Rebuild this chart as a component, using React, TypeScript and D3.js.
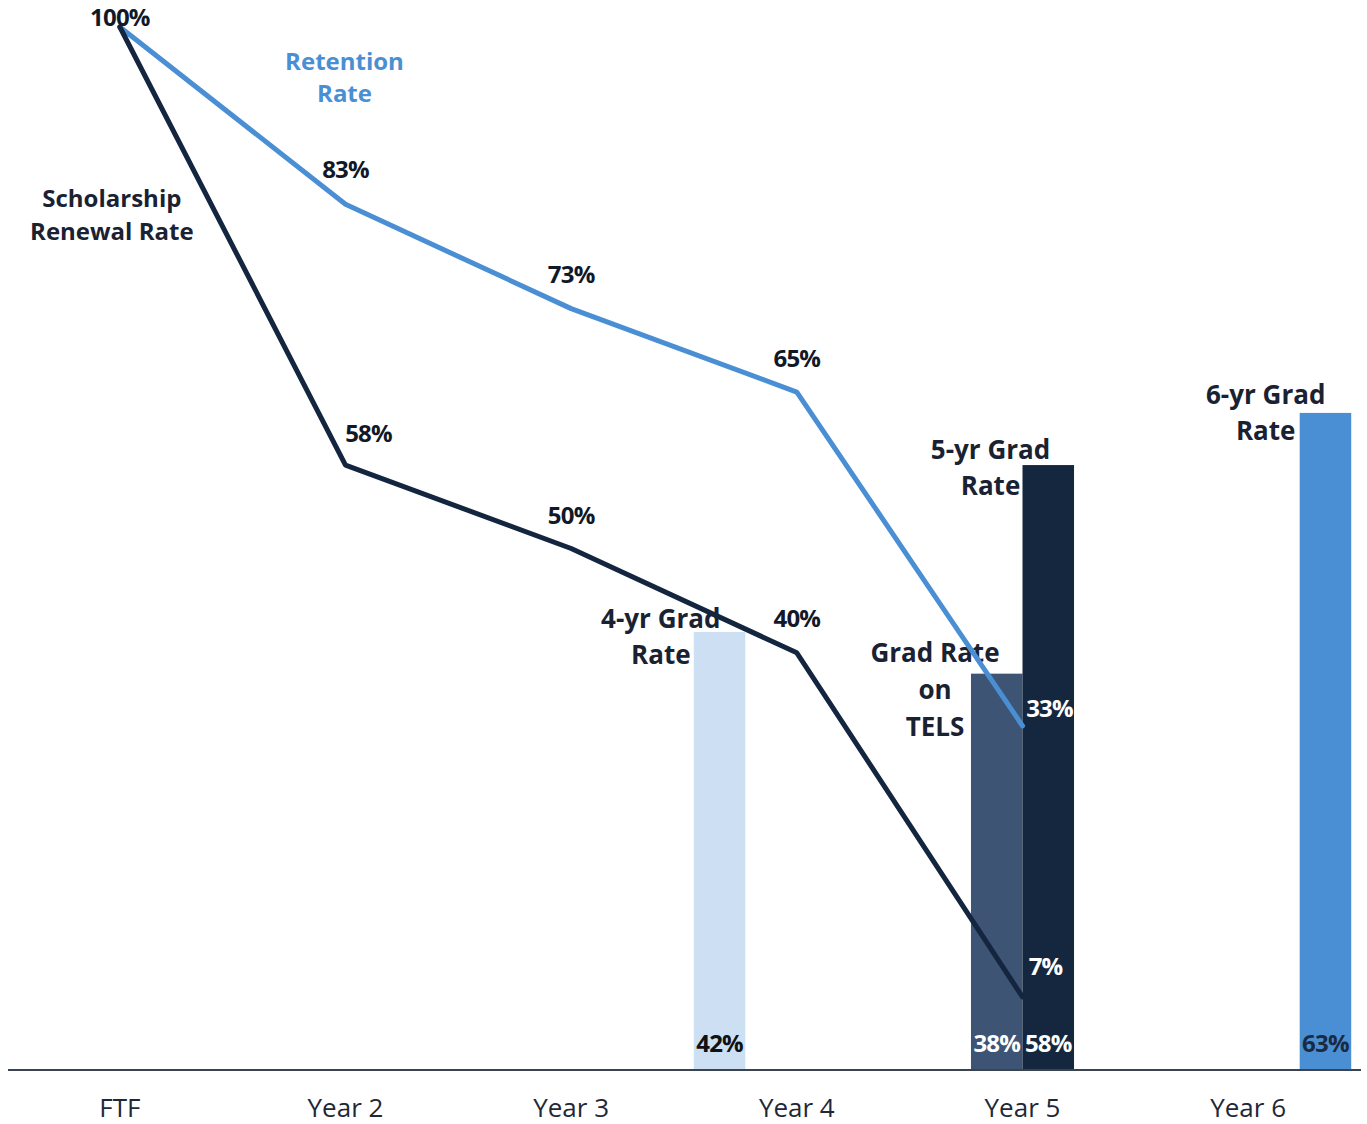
import React, { useEffect, useRef } from "react";
import * as d3 from "d3";

// x-axis categories
const years = ["FTF", "Year 2", "Year 3", "Year 4", "Year 5", "Year 6"];

// line series (ends at Year 5)
const lineYears = ["FTF", "Year 2", "Year 3", "Year 4", "Year 5"];
const retentionRate = [1.0, 0.83, 0.73, 0.65, 0.33];
const renewalRate = [1.0, 0.58, 0.5, 0.4, 0.07];

// grad-rate bars
const barSeries = ["4-yr", "TELS", "5-yr", "6-yr"];
const barYears = ["Year 4", "Year 5", "Year 5", "Year 6"];
const barValues = [0.42, 0.38, 0.58, 0.63];
const barNames = [["4-yr Grad", "Rate"], ["Grad Rate", "on", "TELS"], ["5-yr Grad", "Rate"], ["6-yr Grad", "Rate"]];

const NAVY = "#14263f";
const BLUE = "#4a8fd4";
const TEXT = "#1a2232";
const barColors = ["#cddff3", "#3e5475", "#15273f", "#4a8fd4"];
const barLabelColors = ["#111111", "#ffffff", "#ffffff", "#1a2a40"];

const FONT = "'Open Sans', 'Noto Sans', sans-serif";

const GradChart: React.FC = () => {
  const svgRef = useRef<SVGSVGElement>(null);

  useEffect(() => {
    if (!svgRef.current) return;
    const width = 1367;
    const height = 1124;
    const svg = d3.select(svgRef.current).attr("width", width).attr("height", height);
    svg.selectAll("*").remove();

    const x = d3.scaleBand<string>().domain(years).range([7, 1361]).padding(0);
    const xSub = d3
      .scaleBand<string>()
      .domain(barSeries)
      .range([0, x.bandwidth()])
      .paddingInner(0)
      .paddingOuter(0.19);
    const y = d3.scaleLinear().domain([0, 1]).range([1070, 27]);
    const cx = (c: string) => (x(c) as number) + x.bandwidth() / 2;
    const fmt = d3.format(".0%");

    // bars
    const bars = barSeries.map((s, i) => ({ s, year: barYears[i], v: barValues[i], i }));
    const bx = (d: { s: string; year: string }) => (x(d.year) as number) + (xSub(d.s) as number);

    svg
      .selectAll("rect.bar")
      .data(bars)
      .enter()
      .append("rect")
      .attr("class", "bar")
      .attr("x", (d) => bx(d))
      .attr("y", (d) => y(d.v))
      .attr("width", xSub.bandwidth())
      .attr("height", (d) => y(0) - y(d.v))
      .attr("fill", (d) => barColors[d.i]);

    // bar value labels near bottom
    svg
      .selectAll("text.barval")
      .data(bars)
      .enter()
      .append("text")
      .attr("class", "barval")
      .attr("x", (d) => bx(d) + xSub.bandwidth() / 2)
      .attr("y", y(0) - 18)
      .attr("text-anchor", "middle")
      .style("font-family", FONT)
      .style("font-weight", "bold")
      .style("font-size", "24px")
      .style("letter-spacing", "-0.8px")
      .style("fill", (d) => barLabelColors[d.i])
      .text((d) => fmt(d.v));

    // bar names: first baseline relative to bar top-left
    const nameOffsets = [
      { dx: -33, dy: -4 },
      { dx: -36, dy: -12 },
      { dx: -32, dy: -6 },
      { dx: -34, dy: -9 },
    ];
    const lineGap = [36, 37, 36, 36];
    bars.forEach((d) => {
      const names = barNames[d.i];
      const o = nameOffsets[d.i];
      const t = svg
        .append("text")
        .attr("text-anchor", "middle")
        .style("font-family", FONT)
        .style("font-weight", "bold")
        .style("font-size", "26px")
        .style("fill", TEXT);
      const baseY = y(d.v) + o.dy;
      names.forEach((n, k) => {
        t.append("tspan")
          .attr("x", bx(d) + o.dx)
          .attr("y", baseY + k * lineGap[d.i])
          .text(n);
      });
    });

    // axis line
    svg
      .append("line")
      .attr("x1", 8)
      .attr("x2", 1361)
      .attr("y1", y(0))
      .attr("y2", y(0))
      .attr("stroke", "#3a4350")
      .attr("stroke-width", 2);

    // x labels
    svg
      .selectAll("text.xlab")
      .data(years)
      .enter()
      .append("text")
      .attr("class", "xlab")
      .attr("x", (d) => cx(d))
      .attr("y", 1117)
      .attr("text-anchor", "middle")
      .style("font-family", FONT)
      .style("font-size", "26px")
      .style("fill", "#1e2836")
      .text((d) => d);

    // lines
    const line = d3
      .line<number>()
      .x((_, i) => cx(lineYears[i]))
      .y((d) => y(d));

    svg
      .append("path")
      .datum(retentionRate)
      .attr("d", line)
      .attr("fill", "none")
      .attr("stroke", BLUE)
      .attr("stroke-width", 5)
      .attr("stroke-linecap", "round")
      .attr("stroke-linejoin", "bevel");

    svg
      .append("path")
      .datum(renewalRate)
      .attr("d", line)
      .attr("fill", "none")
      .attr("stroke", NAVY)
      .attr("stroke-width", 5)
      .attr("stroke-linecap", "round")
      .attr("stroke-linejoin", "bevel");

    // point labels
    const pointLabel = (v: number, c: string, dx: number, dy: number, color: string) => {
      svg
        .append("text")
        .attr("x", cx(c) + dx)
        .attr("y", y(v) + dy)
        .attr("text-anchor", "middle")
        .style("font-family", FONT)
        .style("font-weight", "bold")
        .style("font-size", "24px")
        .style("letter-spacing", "-0.8px")
        .style("fill", color)
        .text(fmt(v));
    };

    const retOffsets = [
      [0, -1],
      [0, -26],
      [0, -26],
      [0, -25],
      [27, -9],
    ];
    retentionRate.forEach((v, i) => {
      const [dx, dy] = retOffsets[i];
      pointLabel(v, lineYears[i], dx, dy, i === 4 ? "#ffffff" : "#111827");
    });

    const renOffsets = [
      [0, 0],
      [23, -23],
      [0, -25],
      [0, -26],
      [23, -22],
    ];
    renewalRate.forEach((v, i) => {
      if (i === 0) return; // shares the 100% label
      const [dx, dy] = renOffsets[i];
      pointLabel(v, lineYears[i], dx, dy, i === 4 ? "#ffffff" : "#111827");
    });

    // series names
    const seriesName = (lines: string[], xPos: number, yPos: number, gap: number, color: string) => {
      const t = svg
        .append("text")
        .attr("text-anchor", "middle")
        .style("font-family", FONT)
        .style("font-weight", "bold")
        .style("font-size", "24px")
        .style("fill", color);
      lines.forEach((n, k) => {
        t.append("tspan").attr("x", xPos).attr("y", yPos + k * gap).text(n);
      });
    };
    seriesName(["Retention", "Rate"], cx("Year 2") - 1, 70, 32, BLUE);
    seriesName(["Scholarship", "Renewal Rate"], cx("FTF") - 8, 207, 33, TEXT);
  }, []);

  return <svg ref={svgRef} style={{ position: "absolute", left: 0, top: 0 }}></svg>;
};

export default function App() {
  return <GradChart />;
}
